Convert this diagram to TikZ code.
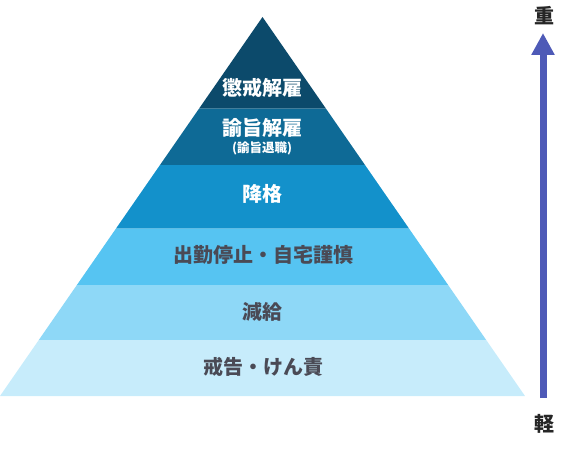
\documentclass[tikz,border=0pt]{standalone}
\usepackage{fontspec}
\setmainfont{Noto Sans CJK JP}
\usetikzlibrary{arrows.meta}
\definecolor{rankA}{HTML}{0C4A6B}
\definecolor{rankB}{HTML}{0E6A96}
\definecolor{rankC}{HTML}{1391CB}
\definecolor{rankD}{HTML}{56C4F2}
\definecolor{rankE}{HTML}{8ED8F7}
\definecolor{rankF}{HTML}{C7ECFB}
\definecolor{textgray}{HTML}{4A4A55}
\definecolor{arrowblue}{HTML}{4E5AB7}
\begin{document}
\begin{tikzpicture}[
        x=1pt, y=-1pt,
        lbl/.style={font=\bfseries\fontsize{20}{20}\selectfont, inner sep=0pt},
        lightlbl/.style={lbl, text=white},
        darklbl/.style={lbl, text=textgray},
        sublbl/.style={font=\bfseries\fontsize{12.5}{12.5}\selectfont, inner sep=0pt, text=white},
        axislbl/.style={font=\bfseries\fontsize{20}{20}\selectfont, inner sep=0pt, text=black!85},
        axisarrow/.style={draw=arrowblue, line width=7pt, -{Triangle[width=22pt,length=22pt]}},
    ]
    \useasboundingbox (0,0) rectangle (568,452);
    % pyramid bands, top to bottom
    \foreach \ya/\yb/\col in {17/108.5/rankA, 108.5/165/rankB, 165/228.5/rankC,
                              228.5/285/rankD, 285/340/rankE, 340/396/rankF}{
        \pgfmathsetmacro\wa{0.6926*(\ya-17)}
        \pgfmathsetmacro\wb{0.6926*(\yb-17)}
        \fill[\col] (262.5-\wa,\ya) -- (262.5+\wa,\ya) -- (262.5+\wb,\yb) -- (262.5-\wb,\yb) -- cycle;
    }
    \node[lightlbl] (chokai) at (262,88) {懲戒解雇};
    \node[lightlbl] (yushi) at (262,127.5) {諭旨解雇};
    \node[sublbl] (taishoku) at (262,148.5) {(諭旨退職)};
    \node[lightlbl] (kokaku) at (262,194) {降格};
    \node[darklbl] (teishi) at (263,255) {出勤停止・自宅謹慎};
    \node[darklbl] (genkyu) at (262,311.5) {減給};
    \node[darklbl] (kaikoku) at (263,367) {戒告・けん責};
    % severity axis
    \node[axislbl] (heavy) at (544,16) {重};
    \node[axislbl] (light) at (544,424) {軽};
    \coordinate (arrowfoot) at (543,398);
    \coordinate (arrowtip) at (543,33);
    \draw[axisarrow] (arrowfoot) -- (arrowtip);
\end{tikzpicture}
\end{document}
